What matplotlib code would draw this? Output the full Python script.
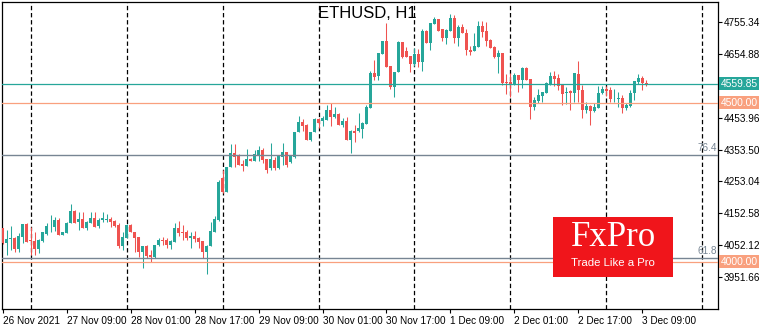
import matplotlib.pyplot as plt
import numpy as np
from matplotlib.patches import Rectangle
from matplotlib.transforms import blended_transform_factory

# hourly candles ETHUSD H1, first bar = 26 Nov 2021 17:00
opens = [4106, 4061, 4071, 4074, 4041, 4079, 4119, 4067, 4066, 4041,
         4066, 4088, 4112, 4111, 4132, 4085, 4090, 4121, 4160, 4127,
         4135, 4106, 4121, 4139, 4114, 4132, 4133, 4135, 4130, 4116,
         4051, 4076, 4116, 4095, 4079, 4030, 4050, 4022, 4014, 4053,
         4069, 4069, 4053, 4064, 4108, 4095, 4095, 4076, 4082, 4076,
         4066, 4032, 4050, 4095, 4132, 4264, 4221, 4297, 4342, 4336,
         4308, 4303, 4324, 4318, 4334, 4352, 4324, 4294, 4320, 4294,
         4331, 4347, 4315, 4331, 4408, 4439, 4431, 4383, 4408, 4449,
         4443, 4446, 4478, 4455, 4464, 4431, 4443, 4383, 4413, 4413,
         4417, 4434, 4483, 4593, 4585, 4653, 4695, 4616, 4551, 4596,
         4693, 4664, 4647, 4622, 4654, 4630, 4727, 4689, 4748, 4763,
         4731, 4703, 4727, 4766, 4703, 4740, 4721, 4668, 4664, 4677,
         4742, 4727, 4698, 4675, 4645, 4658, 4567, 4567, 4559, 4588,
         4572, 4611, 4575, 4488, 4507, 4522, 4532, 4559, 4585, 4577,
         4556, 4530, 4538, 4530, 4591, 4541, 4478, 4490, 4476, 4485,
         4530, 4544, 4541, 4514, 4513, 4514, 4485, 4490, 4530, 4567,
         4577, 4564]
highs = [4108, 4100, 4113, 4079, 4090, 4119, 4124, 4111, 4095, 4071,
         4095, 4121, 4148, 4142, 4139, 4095, 4127, 4181, 4163, 4158,
         4158, 4129, 4158, 4158, 4137, 4156, 4150, 4142, 4132, 4121,
         4093, 4118, 4118, 4095, 4079, 4050, 4053, 4037, 4053, 4076,
         4079, 4076, 4069, 4121, 4129, 4116, 4100, 4093, 4097, 4077,
         4066, 4053, 4127, 4145, 4258, 4289, 4300, 4370, 4370, 4338,
         4320, 4355, 4326, 4352, 4366, 4357, 4324, 4373, 4331, 4336,
         4373, 4347, 4336, 4410, 4459, 4449, 4433, 4410, 4452, 4452,
         4459, 4495, 4499, 4488, 4467, 4452, 4455, 4415, 4431, 4467,
         4441, 4495, 4600, 4635, 4656, 4695, 4750, 4616, 4598, 4695,
         4693, 4675, 4647, 4672, 4669, 4731, 4729, 4752, 4769, 4763,
         4734, 4731, 4780, 4776, 4745, 4748, 4731, 4679, 4721, 4759,
         4759, 4755, 4700, 4679, 4668, 4658, 4591, 4593, 4595, 4588,
         4614, 4614, 4575, 4520, 4544, 4535, 4567, 4598, 4600, 4591,
         4559, 4551, 4541, 4595, 4633, 4556, 4504, 4493, 4499, 4553,
         4553, 4553, 4549, 4543, 4535, 4525, 4499, 4541, 4570, 4591,
         4585, 4572]
lows = [4056, 4022, 4037, 4032, 4030, 4058, 4064, 4022, 4022, 4029,
        4064, 4085, 4095, 4097, 4085, 4085, 4090, 4121, 4121, 4100,
        4106, 4102, 4121, 4111, 4106, 4127, 4127, 4111, 4111, 4045,
        4037, 4074, 4093, 4030, 4017, 3980, 4011, 4001, 4011, 4051,
        4053, 4043, 4041, 4064, 4083, 4069, 4069, 4043, 4064, 4043,
        4013, 3962, 4050, 4095, 4130, 4218, 4219, 4297, 4300, 4305,
        4287, 4303, 4316, 4318, 4318, 4310, 4279, 4289, 4289, 4292,
        4305, 4300, 4312, 4328, 4408, 4413, 4383, 4381, 4408, 4420,
        4428, 4446, 4427, 4452, 4431, 4423, 4383, 4344, 4378, 4408,
        4391, 4434, 4483, 4572, 4572, 4653, 4614, 4544, 4520, 4596,
        4642, 4643, 4598, 4616, 4614, 4601, 4689, 4666, 4748, 4727,
        4696, 4685, 4727, 4687, 4679, 4719, 4651, 4651, 4664, 4677,
        4708, 4679, 4672, 4640, 4593, 4556, 4528, 4520, 4556, 4535,
        4546, 4572, 4449, 4478, 4499, 4504, 4530, 4556, 4553, 4541,
        4493, 4497, 4478, 4504, 4504, 4452, 4467, 4431, 4472, 4483,
        4528, 4522, 4504, 4504, 4488, 4469, 4478, 4488, 4509, 4559,
        4541, 4554]
closes = [4058, 4072, 4074, 4041, 4082, 4119, 4064, 4065, 4041, 4069,
          4093, 4113, 4114, 4132, 4085, 4095, 4123, 4160, 4124, 4135,
          4106, 4127, 4139, 4111, 4132, 4137, 4135, 4127, 4114, 4050,
          4077, 4116, 4095, 4076, 4030, 4050, 4019, 4017, 4053, 4069,
          4066, 4053, 4066, 4108, 4090, 4090, 4076, 4082, 4072, 4064,
          4032, 4050, 4097, 4135, 4252, 4220, 4300, 4342, 4331, 4305,
          4303, 4324, 4318, 4338, 4352, 4320, 4289, 4324, 4294, 4336,
          4347, 4305, 4336, 4410, 4441, 4427, 4383, 4408, 4449, 4438,
          4452, 4478, 4457, 4465, 4431, 4443, 4383, 4412, 4406, 4420,
          4436, 4488, 4593, 4582, 4656, 4695, 4614, 4551, 4596, 4693,
          4645, 4645, 4624, 4654, 4630, 4727, 4689, 4752, 4763, 4727,
          4703, 4729, 4766, 4703, 4740, 4721, 4666, 4661, 4679, 4742,
          4724, 4696, 4672, 4645, 4658, 4564, 4562, 4556, 4588, 4572,
          4611, 4572, 4488, 4509, 4525, 4535, 4562, 4585, 4575, 4553,
          4528, 4535, 4532, 4593, 4541, 4478, 4490, 4476, 4488, 4530,
          4543, 4537, 4511, 4517, 4514, 4485, 4493, 4530, 4569, 4577,
          4564, 4560]

date_labels = ['26 Nov 2021', '27 Nov 09:00', '28 Nov 01:00', '28 Nov 17:00',
               '29 Nov 09:00', '30 Nov 01:00', '30 Nov 17:00', '1 Dec 09:00',
               '2 Dec 01:00', '2 Dec 17:00', '3 Dec 09:00']
price_ticks = [3951.66, 4052.12, 4152.58, 4253.04, 4353.50, 4453.96,
               4654.88, 4755.34]
bid_price = 4559.85
level_price = 4500.00
support_price = 4000.00
fib_levels = {'76.4': 4336, '61.8': 4011}

UP = '#26a69a'
DOWN = '#ef5350'
ORANGE = '#f9a07e'
GREY = '#778593'

plt.rcParams['font.family'] = ['Liberation Sans', 'DejaVu Sans']

o = np.array(opens, float)
h = np.array(highs, float)
l = np.array(lows, float)
c = np.array(closes, float)
x = np.arange(len(o))
up = c >= o
colors = np.where(up, UP, DOWN)

fig = plt.figure(figsize=(7.7, 3.3), dpi=100)
ax = fig.add_axes([2.3 / 770, 1 - 309 / 330, (717.7 - 2.3) / 770, (309 - 2.3) / 330])

# day separators (midnight), every 24 bars starting at 27 Nov 00:00
for d in range(7, 180, 24):
    ax.axvline(d, color='black', lw=0.9, ls=(0, (3.5, 2.2)), zorder=1)

# candles
ax.vlines(x, l, h, colors=colors, lw=0.75, zorder=2)
body = np.maximum(np.abs(c - o), 2.5)
ax.bar(x, body, bottom=np.minimum(o, c), width=0.75, color=colors, lw=0, zorder=3)

# horizontal levels
ax.axhline(bid_price, color=UP, lw=0.9, zorder=4)
ax.axhline(level_price, color=ORANGE, lw=0.9, zorder=4)
ax.axhline(support_price, color=ORANGE, lw=0.9, zorder=4)
for name, val in fib_levels.items():
    ax.axhline(val, color=GREY, lw=1.0, zorder=4)
    ax.text(178.6, val + 8, name, color=GREY, fontsize=7.2, ha='right', va='bottom', zorder=5)

ax.set_xlim(-0.1, 178.85)
ax.set_ylim(3852, 4816.5)

ax.set_xticks(np.arange(0, 161, 16))
ax.set_xticklabels(date_labels, ha='left', fontsize=7.2)
ax.yaxis.tick_right()
ax.set_yticks(price_ticks)
ax.set_yticklabels(['%.2f' % v for v in price_ticks], fontsize=7.2)
ax.tick_params(axis='both', length=3, width=0.8, pad=1.5, direction='out')
ax.tick_params(axis='x', pad=2)
for s in ax.spines.values():
    s.set_linewidth(0.9)

# price boxes on right scale
tr = blended_transform_factory(ax.transAxes, ax.transData)
for val, col in [(bid_price, UP), (level_price, ORANGE), (support_price, ORANGE)]:
    ax.text(1.004, val, '%.2f' % val, transform=tr, color='white', fontsize=7.4,
            ha='left', va='center', clip_on=False, zorder=6,
            bbox=dict(boxstyle='square,pad=0.15', fc=col, ec='none'))

fig.text(367 / 770, 1 - 14 / 330, 'ETHUSD, H1', fontsize=12, ha='center', va='center')

# FxPro badge
fig.patches.append(Rectangle((553 / 770, 1 - 276.7 / 330), 119.7 / 770, 60 / 330,
                             transform=fig.transFigure, fc='#f0151b', ec='none', zorder=10))
fig.text(613.5 / 770, 1 - 237 / 330, 'FxPro', color='white', fontsize=25,
         family=['Liberation Serif', 'DejaVu Serif'], ha='center', va='center', zorder=11)
fig.text(613 / 770, 1 - 262.5 / 330, 'Trade Like a Pro', color='white', fontsize=8.2,
         ha='center', va='center', zorder=11)

fig.savefig('out.png', dpi=100)
